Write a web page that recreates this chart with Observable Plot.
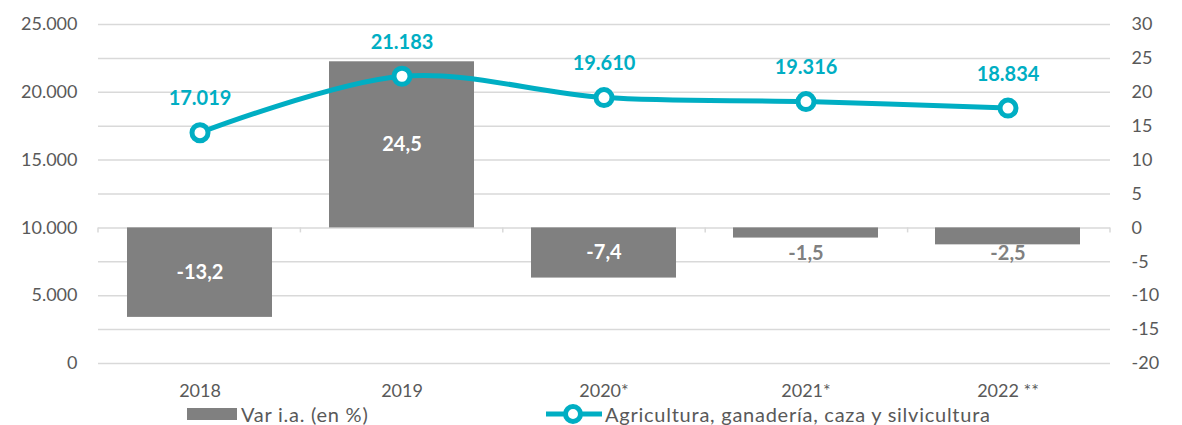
<!DOCTYPE html>
<html><head><meta charset="utf-8">
<script src="https://cdn.jsdelivr.net/npm/d3@7"></script>
<script src="https://cdn.jsdelivr.net/npm/@observablehq/plot@0.6"></script>
<style>
body{margin:0;background:#fff;font-family:Lato,"Open Sans",sans-serif;}
#wrap{position:relative;width:1182px;height:425px;overflow:hidden;}
#chart svg{display:block;}
.legend{position:absolute;top:404px;left:0;width:1182px;height:20px;font-size:20px;line-height:20px;letter-spacing:0.75px;color:#595959;}
.item{position:absolute;top:0;height:20px;display:flex;align-items:center;white-space:nowrap;}
.swatch{display:inline-block;width:50px;height:12px;background:#808080;margin-right:4px;}
</style></head><body>
<div id="wrap"><div id="chart"></div>
<div class="legend">
  <div class="item" style="left:187px"><span class="swatch"></span><span id="lg1"></span></div>
  <div class="item" style="left:545px"><svg width="58" height="20" style="margin-right:2px"><line x1="1" x2="57" y1="10" y2="10" stroke="#00AEC3" stroke-width="5"/><circle cx="28" cy="10" r="7.5" fill="#fff" stroke="#00AEC3" stroke-width="5"/></svg><span id="lg2"></span></div>
</div></div>
<script>
const categories = ["2018", "2019", "2020*", "2021*", "2022 **"];
const varIA = [-13.2, 24.5, -7.4, -1.5, -2.5];
const agricultura = [17019, 21183, 19610, 19316, 18834];
const leftTicks = [0, 5000, 10000, 15000, 20000, 25000];
const rightTicks = [-20, -15, -10, -5, 0, 5, 10, 15, 20, 25, 30];
const seriesNames = ["Var i.a. (en %)", "Agricultura, ganadería, caza y silvicultura"];

const teal = "#00AEC3";
const barGray = "#808080";
const loc = d3.formatLocale({decimal: ",", thousands: ".", grouping: [3], currency: ["", ""]});
const fmtK = loc.format(",d");
const fmtPct = v => String(v).replace(".", ",");

// left axis (0..25000) mapped onto right axis (-20..30)
const toRight = v => v * (50 / 25000) - 20;
const fromRight = t => Math.round((t + 20) * 500);

const bars = categories.map((c, i) => ({cat: c, v: varIA[i]}));
const line = categories.map((c, i) => ({cat: c, v: agricultura[i]}));

const boundaryTicks = (index, scales, values, dims) => {
  const g = d3.create("svg:g");
  const n = categories.length;
  const w = dims.width - dims.marginLeft - dims.marginRight;
  const y0 = scales.y(0);
  for (let i = 0; i <= n; i++) {
    const x = dims.marginLeft + i * w / n;
    g.append("line").attr("x1", x).attr("x2", x).attr("y1", y0).attr("y2", y0 + 5)
      .attr("stroke", "#d9d9d9").attr("stroke-width", 1.5);
  }
  return g.node();
};

const chart = Plot.plot({
  width: 1182,
  height: 403,
  marginLeft: 98,
  marginRight: 72,
  marginTop: 24,
  marginBottom: 40,
  style: {fontFamily: "Lato, 'Open Sans', sans-serif", color: "#595959", background: "#fff"},
  x: {type: "band", domain: categories, paddingInner: 0.28, paddingOuter: 0.14, label: null},
  y: {domain: [-20, 30], label: null},
  marks: [
    Plot.ruleY(rightTicks, {stroke: "#d9d9d9", strokeWidth: 1.5}),
    Plot.barY(bars, {x: "cat", y: "v", fill: barGray}),
    boundaryTicks,
    Plot.axisX({tickSize: 0, tickPadding: 21, fontSize: 18, label: null}),
    Plot.axisY(leftTicks.map(toRight), {anchor: "left", tickSize: 0, tickPadding: 21, fontSize: 18,
      tickFormat: t => fmtK(fromRight(t)), label: null}),
    Plot.axisY(rightTicks, {anchor: "right", tickSize: 0, tickPadding: 21, fontSize: 18,
      tickFormat: t => String(t), label: null}),
    Plot.line(line, {x: "cat", y: d => toRight(d.v), curve: "catmull-rom", stroke: teal, strokeWidth: 5}),
    Plot.dot(line, {x: "cat", y: d => toRight(d.v), r: 8, fill: "#fff", stroke: teal, strokeWidth: 5}),
    Plot.text(line, {x: "cat", y: d => toRight(d.v), dy: -34, text: d => fmtK(d.v), fill: teal,
      fontWeight: "bold", fontSize: 20}),
    Plot.text(bars.filter(d => Math.abs(d.v) >= 5), {x: "cat", y: d => d.v / 2, text: d => fmtPct(d.v),
      fill: "#fff", fontWeight: "bold", fontSize: 20}),
    Plot.text(bars.filter(d => Math.abs(d.v) < 5), {x: "cat", y: 0, dy: 26, text: d => fmtPct(d.v),
      fill: barGray, fontWeight: "bold", fontSize: 20})
  ]
});
document.getElementById("chart").appendChild(chart);
document.getElementById("lg1").textContent = seriesNames[0];
document.getElementById("lg2").textContent = seriesNames[1];
</script>
</body></html>
